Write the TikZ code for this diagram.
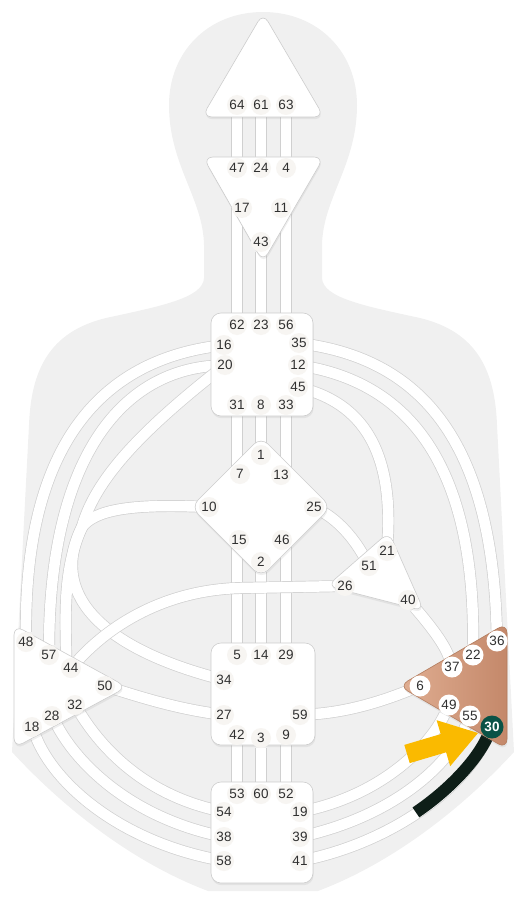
\documentclass[tikz,border=0pt]{standalone}
\usepackage{fontspec}
\newfontfamily\gatefont{Liberation Sans}
\usetikzlibrary{shadows}

\definecolor{silh}{RGB}{240,240,240}
\definecolor{chanline}{RGB}{208,208,208}
\definecolor{ctrline}{RGB}{205,205,205}
\definecolor{gatetext}{RGB}{48,48,48}
\definecolor{gatebg}{RGB}{247,245,242}
\definecolor{spL}{RGB}{224,174,146}
\definecolor{spR}{RGB}{196,136,106}
\definecolor{spline}{RGB}{178,124,94}
\definecolor{hang}{RGB}{14,30,24}
\definecolor{g30bg}{RGB}{10,82,70}
\definecolor{pointer}{RGB}{250,186,0}

\pgfdeclarelayer{body}
\pgfdeclarelayer{chan}
\pgfsetlayers{body,chan,main}

\begin{document}
\begin{tikzpicture}[x=1pt, y=-1pt,
    channel/.style={draw=chanline, line width=0.7pt, double=white, double distance=10.5pt},
    ctr/.style={draw=ctrline, line width=0.6pt, fill=white, rounded corners=10pt,
        drop shadow={shadow xshift=0.6pt, shadow yshift=-2.2pt, opacity=0.12}},
    gate/.style={circle, fill=gatebg, minimum size=20pt, inner sep=0pt,
        font=\gatefont\fontsize{13.5}{13.5}\selectfont, text=gatetext},
    spgate/.style={gate, fill=white, minimum size=21pt},
]
    \useasboundingbox (0,0) rectangle (528,904);

    % Body outline
    \begin{pgfonlayer}{body}
    \fill[silh] (263,12) .. controls (318,12) and (357,52) .. (357,105)
        .. controls (357,165) and (323,198) .. (322,245) -- (322,278)
        .. controls (323,298) and (365,306) .. (420,318)
        .. controls (478,332) and (495,372) .. (497,425) -- (514,752)
        .. controls (470,800) and (400,860) .. (318,891) -- (208,891)
        .. controls (126,860) and (56,800) .. (12,752) -- (29,425)
        .. controls (31,372) and (48,332) .. (106,318)
        .. controls (161,306) and (203,298) .. (204,278) -- (204,245)
        .. controls (203,198) and (169,165) .. (169,105)
        .. controls (169,52) and (208,12) .. (263,12) -- cycle;
    \end{pgfonlayer}

    % Centres
    \draw[ctr] (202,117) -- (263,13) -- (324,117) -- cycle;                 % head
    \draw[ctr] (203,157) -- (324,157) -- (263,262) -- cycle;                % ajna
    \draw[ctr] (211,313) rectangle (313,416);                               % throat
    \draw[ctr] (261,437) -- (331,507) -- (261,577) -- (191,507) -- cycle;   % G
    \draw[ctr] (389,532) -- (424,611) -- (327,586) -- cycle;                % heart
    \draw[ctr] (14,625) -- (127,687) -- (14,748) -- cycle;                  % spleen
    \draw[ctr] (211,643) rectangle (315,745);                               % sacral
    \draw[ctr] (211,782) rectangle (313,883);                               % root
    \draw[ctr, draw=spline, left color=spL, right color=spR]
        (507,623) -- (507,749) -- (399,686) -- cycle;                       % solar plexus

    % Gates
    \foreach \n/\x/\y in {64/237/105, 61/261/105, 63/286/105,
        47/237/168, 24/261/168, 4/286/168, 17/242/208, 11/281/208, 43/261/242,
        62/237/325, 23/261/325, 56/286/325, 16/224/345, 35/299/343, 20/225/365,
        12/298/365, 45/298/387, 31/237/405, 8/261/405, 33/286/405,
        1/261/455, 7/240/474, 13/281/475, 10/209/507, 25/314/507, 15/239/540,
        46/282/540, 2/261/562,
        21/387/551, 51/369/566, 26/345/586, 40/408/600,
        48/26/642, 57/49/655, 44/71/668, 50/105/686, 32/75/705, 28/52/716, 18/32/727,
        5/237/655, 14/261/655, 29/286/655, 34/224/680, 27/224/715, 59/300/715,
        42/237/735, 3/261/738, 9/286/735,
        53/237/794, 60/261/794, 52/286/794, 54/224/812, 19/300/812,
        38/224/837, 39/300/837, 58/224/861, 41/300/861}
        \node[gate] (g\n) at (\x,\y) {\n};
    \foreach \n/\x/\y in {36/497/641, 22/473/655, 37/452/667, 6/420/686,
        49/449/705, 55/470/716}
        \node[spgate] (g\n) at (\x,\y) {\n};
    \node[spgate, minimum size=23pt, fill=g30bg, text=white,
        font=\gatefont\bfseries\fontsize{13.5}{13.5}\selectfont] (g30) at (492,727) {30};

    % Channels
    \begin{pgfonlayer}{chan}
    \foreach \a/\b in {64/47, 61/24, 63/4, 23/43, 8/1, 14/2, 60/3}
        \draw[channel] (g\a) -- (g\b);
    \foreach \a/\b in {62/17, 56/11, 31/7, 33/13, 5/15, 29/46, 53/42, 52/9}
        \draw[channel] (g\a) -- (g\a |- g\b);
    \foreach \a/\p/\q/\b in {16/{105,362}/{25,440}/48, 20/{120,372}/{50,460}/57,
        35/{420,362}/{492,440}/36, 12/{405,385}/{475,460}/22,
        45/{375,410}/{392,470}/21, 25/{340,522}/{355,540}/51,
        40/{430,625}/{445,645}/37, 59/{350,712}/{385,700}/6,
        27/{175,708}/{140,697}/50,
        54/{140,792}/{100,745}/32, 38/{130,815}/{78,765}/28, 58/{120,840}/{55,785}/18,
        19/{385,792}/{430,745}/49, 39/{400,812}/{450,762}/55, 41/{385,842}/{460,795}/30}
        \draw[channel] (g\a) .. controls (\p) and (\q) .. (g\b);

    % integration loop, drawn as one merged band
    \coordinate (lp) at (82,527);
    \coordinate (s57) at (66,666);
    \foreach \w/\c in {11.9/chanline, 10.5/white} {
        \draw[line width=\w pt, draw=\c, line cap=round]
            (g20) .. controls (140,432) and (95,480) .. (lp);
        \draw[line width=\w pt, draw=\c, line cap=round]
            (g10) .. controls (130,504) and (95,510) .. (lp);
        \draw[line width=\w pt, draw=\c, line cap=round]
            (lp) .. controls (50,590) and (95,645) .. (g34);
        \draw[line width=\w pt, draw=\c, line cap=round]
            (lp) .. controls (60,575) and (67,630) .. (s57);
    }
    \draw[channel] (g26) -- (240,588) .. controls (165,590) and (110,625) .. (g44);

    % defined half of 41-30
    \coordinate (c41mid) at (415.9,812.4);
    \draw[line width=12pt, draw=hang] (c41mid) .. controls (449.25,789.75) and (476,761) .. (g30);
    \end{pgfonlayer}

    % Pointer
    \fill[pointer] (404.3,744.9) -- (440.7,734.1) -- (436.6,720.2) -- (478,733)
        -- (450.2,766.2) -- (446.1,752.3) -- (409.7,763.1) -- cycle;
\end{tikzpicture}
\end{document}
